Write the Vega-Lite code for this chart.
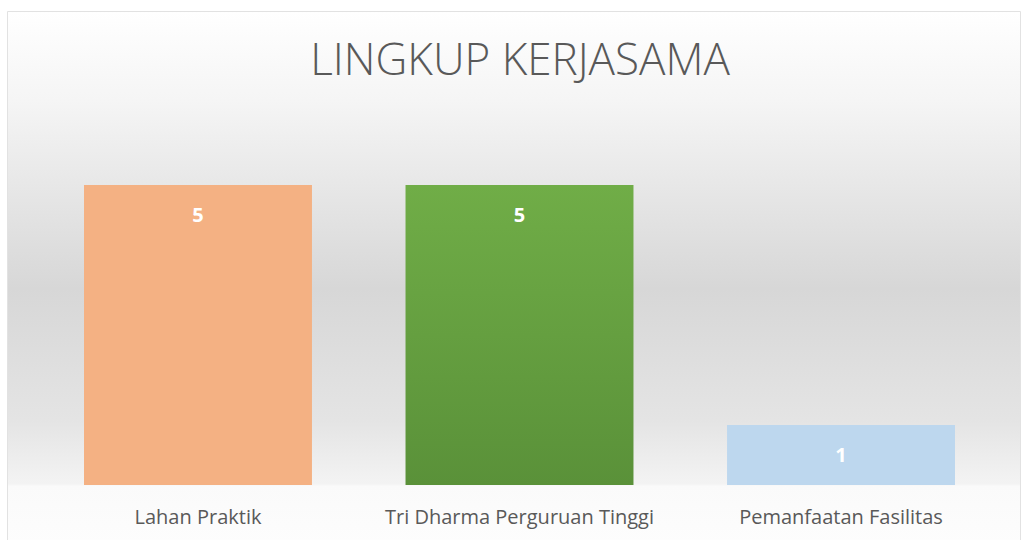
{
  "$schema": "https://vega.github.io/schema/vega-lite/v6.json",
  "width": 1012,
  "height": 532,
  "autosize": {"type": "none"},
  "padding": {"left": 8, "top": 12, "right": 3, "bottom": 0},
  "background": "#ffffff",
  "title": {
    "text": "LINGKUP KERJASAMA",
    "orient": "top",
    "anchor": "middle",
    "frame": "group",
    "offset": -107,
    "dx": 6,
    "baseline": "alphabetic",
    "font": "Open Sans",
    "fontSize": 44,
    "fontWeight": 300,
    "color": "#595959"
  },
  "config": {
    "view": {"stroke": "#d9d9d9", "strokeWidth": 1.5},
    "font": "Open Sans"
  },
  "data": {
    "values": [
      {"kategori": "Lahan Praktik", "jumlah": 5},
      {"kategori": "Tri Dharma Perguruan Tinggi", "jumlah": 5},
      {"kategori": "Pemanfaatan Fasilitas", "jumlah": 1}
    ]
  },
  "layer": [
    {
      "data": {"values": [{"bg": 1}]},
      "mark": {
        "type": "rect",
        "fill": {
          "gradient": "linear",
          "x1": 0, "y1": 0, "x2": 0, "y2": 1,
          "stops": [
            {"offset": 0, "color": "#ffffff"},
            {"offset": 0.165, "color": "#f5f5f5"},
            {"offset": 0.52, "color": "#d7d7d7"},
            {"offset": 0.767, "color": "#e4e4e4"},
            {"offset": 0.887, "color": "#f3f3f3"},
            {"offset": 0.891, "color": "#fafafa"},
            {"offset": 1, "color": "#fdfdfd"}
          ]
        }
      },
      "encoding": {}
    },
    {
      "mark": {"type": "bar"},
      "encoding": {
        "x": {
          "field": "kategori",
          "type": "nominal",
          "sort": null,
          "scale": {"paddingInner": 0.291, "paddingOuter": 0.2193, "align": 0.539},
          "axis": {
            "title": null,
            "orient": "bottom",
            "offset": -48,
            "zindex": 2,
            "domain": false,
            "ticks": false,
            "labelPadding": 11,
            "labelAngle": 0,
            "labelLimit": 0,
            "labelFont": "Open Sans",
            "labelFontSize": 20,
            "labelColor": "#595959",
            "labelBaseline": "top"
          }
        },
        "y": {
          "field": "jumlah",
          "type": "quantitative",
          "scale": {"domain": [-0.983, 7.883], "nice": false, "zero": false},
          "axis": null
        },
        "y2": {"datum": 0},
        "color": {
          "condition": {
            "test": "datum.kategori === 'Tri Dharma Perguruan Tinggi'",
            "value": {
              "gradient": "linear",
              "x1": 0, "y1": 0, "x2": 0, "y2": 1,
              "stops": [
                {"offset": 0, "color": "#70ad47"},
                {"offset": 1, "color": "#5a9139"}
              ]
            }
          },
          "field": "kategori",
          "type": "nominal",
          "sort": null,
          "scale": {
            "domain": ["Lahan Praktik", "Tri Dharma Perguruan Tinggi", "Pemanfaatan Fasilitas"],
            "range": ["#f4b183", "#6aa745", "#bdd7ee"]
          },
          "legend": null
        }
      }
    },
    {
      "mark": {
        "type": "text",
        "dy": 31,
        "baseline": "middle",
        "align": "center",
        "color": "#ffffff",
        "font": "Open Sans",
        "fontWeight": "bold",
        "fontSize": 20
      },
      "encoding": {
        "x": {"field": "kategori", "type": "nominal", "sort": null},
        "y": {"field": "jumlah", "type": "quantitative"},
        "text": {"field": "jumlah", "type": "quantitative"}
      }
    }
  ]
}
